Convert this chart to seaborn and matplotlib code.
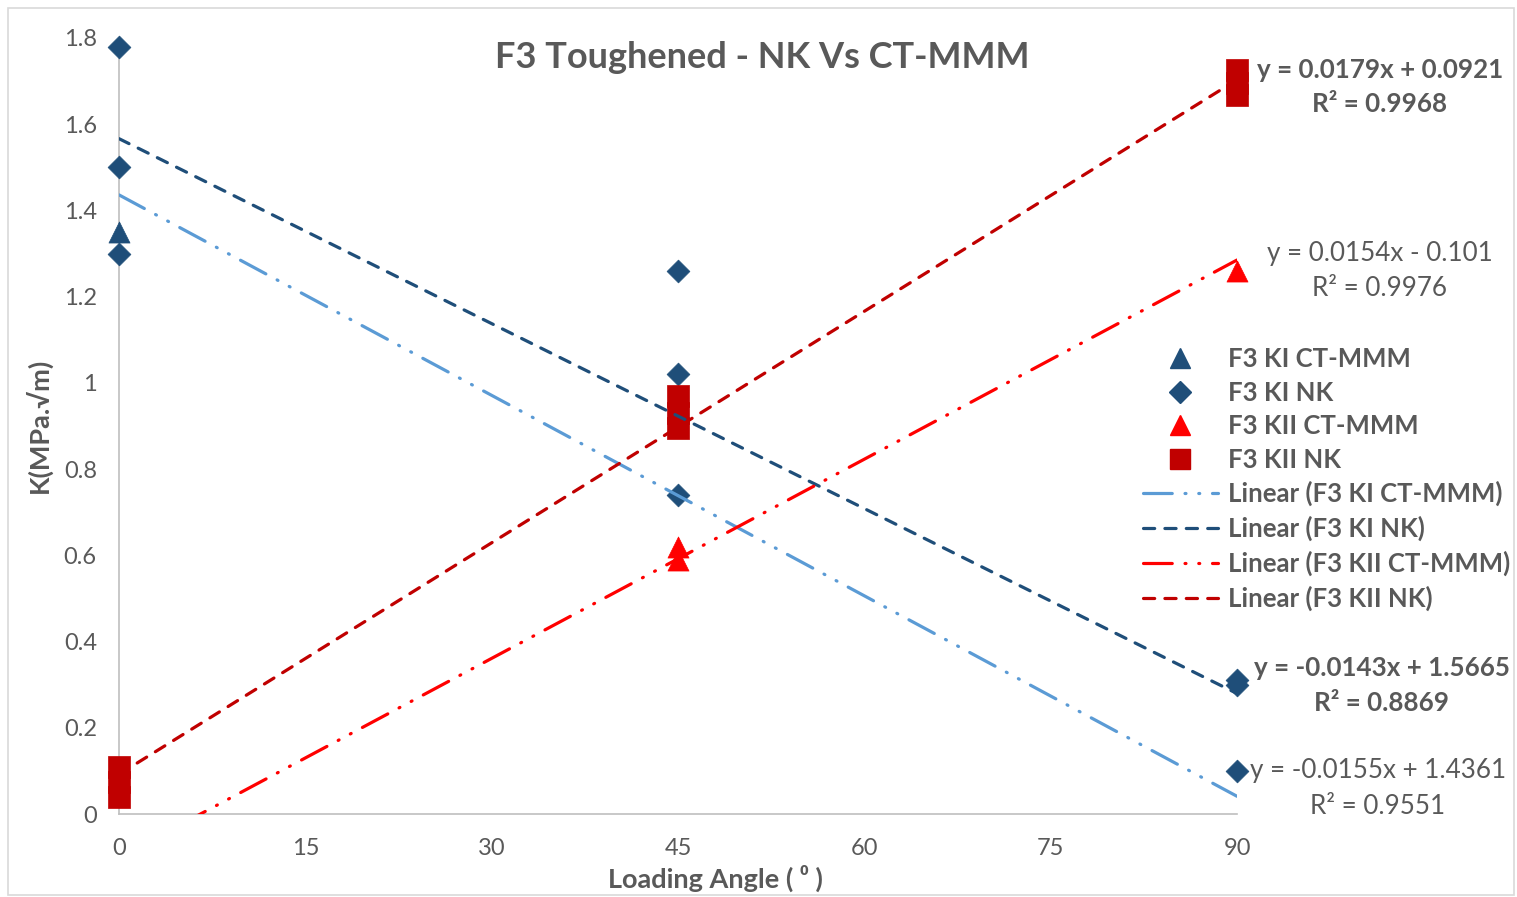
import matplotlib
matplotlib.use("Agg")
import matplotlib.pyplot as plt
from matplotlib.lines import Line2D
from matplotlib.patches import Rectangle
import numpy as np
import pandas as pd
import seaborn as sns

# ---- data -------------------------------------------------------------
ki_ct_angle = [0]
ki_ct_k = [1.35]

ki_nk_angle = [0, 0, 0, 45, 45, 45, 90, 90, 90]
ki_nk_k = [1.78, 1.50, 1.30, 1.26, 1.02, 0.74, 0.31, 0.30, 0.10]

kii_ct_angle = [45, 45, 90]
kii_ct_k = [0.62, 0.59, 1.26]

kii_nk_angle = [0, 0, 0, 45, 45, 45, 90, 90, 90]
kii_nk_k = [0.11, 0.075, 0.04, 0.97, 0.93, 0.895, 1.725, 1.695, 1.667]

# linear trend lines (slope, intercept, R^2)
fit_ki_ct = (-0.0155, 1.4361, 0.9551)
fit_ki_nk = (-0.0143, 1.5665, 0.8869)
fit_kii_ct = (0.0154, -0.101, 0.9976)
fit_kii_nk = (0.0179, 0.0921, 0.9968)

x_ticks = [0, 15, 30, 45, 60, 75, 90]
y_ticks = [0, 0.2, 0.4, 0.6, 0.8, 1.0, 1.2, 1.4, 1.6, 1.8]
y_tick_labels = ["0", "0.2", "0.4", "0.6", "0.8", "1", "1.2", "1.4", "1.6", "1.8"]

# ---- style ------------------------------------------------------------
sns.set_theme(style="white")
plt.rcParams["font.family"] = ["Lato", "DejaVu Sans"]

DARK_BLUE = "#1F4E79"
LIGHT_BLUE = "#5B9BD5"
RED = "#FF0000"
DARK_RED = "#C00000"
TEXT = "#595959"
AXIS = "#BFBFBF"

W, H = 1517, 897
fig = plt.figure(figsize=(W / 100, H / 100), dpi=100)
ax = fig.add_axes([119 / W, 83 / H, (1237 - 119) / W, (814 - 38) / H])

# outer chart frame
fig.patches.append(Rectangle((8 / W, 2 / H), 1506 / W, 887 / H,
                             transform=fig.transFigure, fill=False,
                             edgecolor="#D9D9D9", linewidth=1.2))

# ---- markers ----------------------------------------------------------
def scatter(xs, ys, marker, size, color):
    sns.scatterplot(x=xs, y=ys, ax=ax, marker=marker, s=size, color=color,
                    edgecolor=color, linewidth=0.5, clip_on=False, zorder=3,
                    legend=False)

scatter(ki_ct_angle, ki_ct_k, "^", 230, DARK_BLUE)
scatter(ki_nk_angle, ki_nk_k, "D", 135, DARK_BLUE)
scatter(kii_ct_angle, kii_ct_k, "^", 230, RED)
scatter(kii_nk_angle, kii_nk_k, "s", 270, DARK_RED)

# ---- trend lines ------------------------------------------------------
x_fit = np.array([0.0, 90.0])
ls_dashdotdot = (0, (9, 4, 0.3, 4, 0.3, 4))
ls_dash = (0, (3.5, 3.2))
trend_specs = [
    (fit_ki_ct, LIGHT_BLUE, ls_dashdotdot),
    (fit_ki_nk, DARK_BLUE, ls_dash),
    (fit_kii_ct, RED, ls_dashdotdot),
    (fit_kii_nk, DARK_RED, ls_dash),
]
for (m, b, _), col, ls in trend_specs:
    sns.lineplot(x=x_fit, y=m * x_fit + b, ax=ax, color=col, linewidth=2.3,
                 linestyle=ls, dash_capstyle="round", zorder=4)

# ---- axes -------------------------------------------------------------
ax.set_xlim(0, 90)
ax.set_ylim(0, 1.8)
ax.set_xticks(x_ticks)
ax.set_yticks(y_ticks)
ax.set_yticklabels(y_tick_labels)
ax.tick_params(axis="both", length=0, labelsize=17, labelcolor=TEXT)
ax.tick_params(axis="x", pad=17)
ax.tick_params(axis="y", pad=16)
for s in ["top", "right"]:
    ax.spines[s].set_visible(False)
for s in ["left", "bottom"]:
    ax.spines[s].set_color(AXIS)
    ax.spines[s].set_linewidth(1.2)
ax.grid(False)
ax.set_xlabel("")
ax.set_ylabel("")

fig.text(715 / W, 1 - 878 / H, "Loading Angle ( \u2070 )", ha="center",
         va="center", fontsize=19.5, fontweight="bold", color=TEXT)
fig.text(38 / W, 1 - 425 / H, "K(MPa.\u221am)", ha="center", va="center",
         rotation=90, fontsize=19.5, fontweight="bold", color=TEXT)
fig.text(762 / W, 1 - 57 / H, "F3 Toughened - NK Vs CT-MMM",
         ha="center", va="center", fontsize=26, fontweight="bold", color=TEXT)

# ---- trend line equations --------------------------------------------
def equation(fit, xc, yc, bold):
    m, b, r2 = fit
    sign = "+" if b >= 0 else "-"
    txt = f"y = {m:g}x {sign} {abs(b):g}\nR\u00b2 = {r2:.4f}"
    fig.text(xc / W, 1 - yc / H, txt, ha="center", va="center",
             fontsize=18.7, fontweight="bold" if bold else "normal",
             color=TEXT, linespacing=1.55)

equation(fit_kii_nk, 1380, 87, True)
equation(fit_kii_ct, 1380, 271, False)
equation(fit_ki_nk, 1382, 685, True)
equation(fit_ki_ct, 1378, 788, False)

# ---- legend -----------------------------------------------------------
handles = [
    Line2D([], [], linestyle="none", marker="^", markersize=15, color=DARK_BLUE),
    Line2D([], [], linestyle="none", marker="D", markersize=11, color=DARK_BLUE),
    Line2D([], [], linestyle="none", marker="^", markersize=15, color=RED),
    Line2D([], [], linestyle="none", marker="s", markersize=15, color=DARK_RED),
    Line2D([], [], color=LIGHT_BLUE, linewidth=2.3, linestyle=ls_dashdotdot,
           dash_capstyle="round"),
    Line2D([], [], color=DARK_BLUE, linewidth=2.3, linestyle=ls_dash,
           dash_capstyle="round"),
    Line2D([], [], color=RED, linewidth=2.3, linestyle=ls_dashdotdot,
           dash_capstyle="round"),
    Line2D([], [], color=DARK_RED, linewidth=2.3, linestyle=ls_dash,
           dash_capstyle="round"),
]
labels = ["F3 KI CT-MMM", "F3 KI NK", "F3 KII CT-MMM", "F3 KII NK",
          "Linear (F3 KI CT-MMM)", "Linear (F3 KI NK)",
          "Linear (F3 KII CT-MMM)", "Linear (F3 KII NK)"]
leg = fig.legend(handles, labels, loc="upper left",
                 bbox_to_anchor=(1143 / W, 1 - 347 / H),
                 frameon=False, handlelength=2.9, handletextpad=0.4,
                 labelspacing=0.37, borderaxespad=0, borderpad=0,
                 prop={"size": 18.5, "weight": "bold"})
for t in leg.get_texts():
    t.set_color(TEXT)

fig.savefig("out.png", dpi=100, facecolor="white")
